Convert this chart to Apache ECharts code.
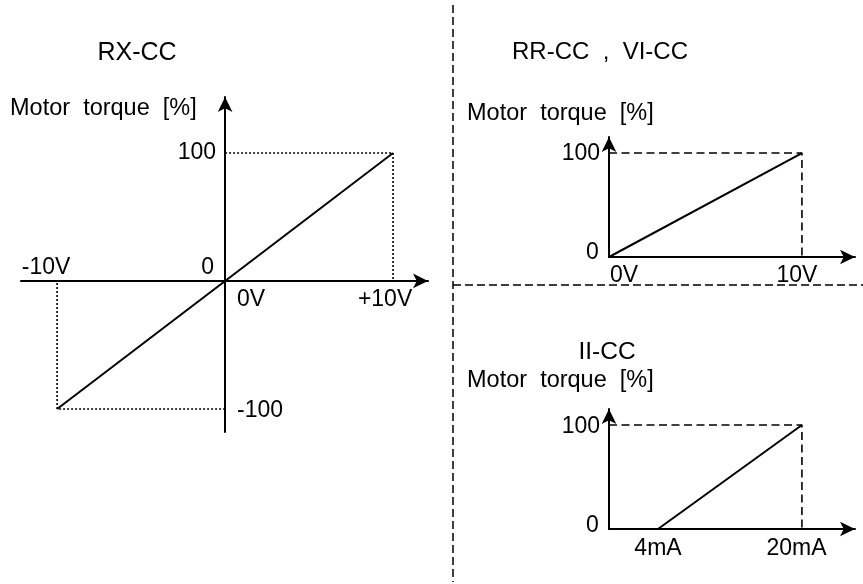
<!DOCTYPE html>
<html><head><meta charset="utf-8">
<script src="https://cdn.jsdelivr.net/npm/echarts@6/dist/echarts.min.js"></script>
<style>html,body{margin:0;padding:0;background:#fff}#c{width:863px;height:584px}</style>
</head><body><div id="c"></div>
<script>
// ---------------- data ----------------
// RX-CC : -10V..+10V  ->  -100..100 %
const rxVoltage = [-10, 10];
const rxTorque = [-100, 100];
const rxVoltTicks = [-10, 0, 10];
const rxVoltTickLabels = ['-10V', '0V', '+10V'];
const rxTorqueTicks = [100, 0, -100];
const rxTorqueTickLabels = ['100', '0', '-100'];

// RR-CC , VI-CC : 0V..10V -> 0..100 %
const vVoltage = [0, 10];
const vTorque = [0, 100];
const vVoltTicks = [0, 10];
const vVoltTickLabels = ['0V', '10V'];
const vTorqueTicks = [100, 0];
const vTorqueTickLabels = ['100', '0'];

// II-CC : 4mA..20mA -> 0..100 %
const iCurrent = [4, 20];
const iTorque = [0, 100];
const iCurrentTicks = [4, 20];
const iCurrentTickLabels = ['4mA', '20mA'];
const iTorqueTicks = [100, 0];
const iTorqueTickLabels = ['100', '0'];

const panelTitles = ['RX-CC', 'RR-CC  ,  VI-CC', 'II-CC'];
const torqueAxisName = 'Motor  torque  [%]';

// ---------------- layout / style ----------------
const FONT = '"Liberation Sans", Arial, Helvetica, sans-serif';
const grids = [
  {left: 21, top: 97, width: 407, height: 335},
  {left: 609, top: 137, width: 246, height: 120},
  {left: 609, top: 409, width: 246, height: 120}
];
const xRange = [[-12.15, 12.08], [0, 12.75], [-1.45, 25.9]];
const yRange = [[-118, 143.7], [0, 115.4], [0, 115.4]];

// label placement for each tick label (same order as tick arrays)
const rxVoltLabelPos = [{off: [-11, -13]}, {off: [26, 19]}, {off: [-8, 19]}];
const rxTorqueLabelPos = [{pos: 'left', dist: 9}, {off: [-17.5, -13.5]}, {pos: 'right', dist: 12, off: [0, 2]}];
const vVoltLabelPos = [{off: [15, 19]}, {off: [-5, 19]}];
const vTorqueLabelPos = [{pos: 'left', dist: 9, off: [0, 1]}, {off: [-16.5, -4.5]}];
const iCurrentLabelPos = [{off: [0, 19.5]}, {off: [-5.5, 19.5]}];
const iTorqueLabelPos = [{pos: 'left', dist: 9, off: [0, 2]}, {off: [-16.5, -3]}];

const axisLineStyle = {color: '#000', width: 2};
const arrowSize = [11, 15];

function mkX(i) {
  return {
    type: 'value', gridIndex: i, min: xRange[i][0], max: xRange[i][1],
    axisLine: {show: true, onZero: true, symbol: ['none', 'arrow'], symbolSize: arrowSize, lineStyle: axisLineStyle},
    axisTick: {show: false}, axisLabel: {show: false}, splitLine: {show: false}
  };
}
function mkY(i) {
  return {
    type: 'value', gridIndex: i, min: yRange[i][0], max: yRange[i][1],
    axisLine: {show: true, onZero: i === 0, symbol: ['none', 'arrow'], symbolSize: arrowSize, lineStyle: axisLineStyle},
    axisTick: {show: false}, axisLabel: {show: false}, splitLine: {show: false}
  };
}
const pairs = (xs, ys) => xs.map((x, k) => [x, ys[k]]);

function lineSeries(i, data, type, width) {
  return {
    type: 'line', xAxisIndex: i, yAxisIndex: i, data: data, symbol: 'none', silent: true,
    clip: false, z: type === 'solid' ? 4 : 3,
    lineStyle: {color: '#000', width: width, type: type, opacity: 1}
  };
}
function labelSeries(i, points, texts, placement) {
  return {
    type: 'scatter', xAxisIndex: i, yAxisIndex: i, symbolSize: 0, silent: true, clip: false, z: 6,
    itemStyle: {color: '#000', opacity: 1},
    data: points.map((p, k) => {
      const pl = placement[k];
      return {
        value: p,
        label: {
          show: true, formatter: texts[k], position: pl.pos || 'inside', distance: pl.dist || 0,
          offset: pl.off || [0, 0], color: '#000', opacity: 1, textBorderWidth: 0, textBorderColor: 'transparent',
          fontSize: 23, fontFamily: FONT
        }
      };
    })
  };
}

const dotted = [2, 2];
const dashed = [8, 4.5];

const series = [
  // RX-CC
  lineSeries(0, pairs(rxVoltage, rxTorque), 'solid', 2),
  lineSeries(0, [[0, rxTorque[1]], [rxVoltage[1], rxTorque[1]], [rxVoltage[1], 0]], dotted, 1.6),
  lineSeries(0, [[0, rxTorque[0]], [rxVoltage[0], rxTorque[0]], [rxVoltage[0], 0]], dotted, 1.6),
  labelSeries(0, rxVoltTicks.map(v => [v, 0]), rxVoltTickLabels, rxVoltLabelPos),
  labelSeries(0, rxTorqueTicks.map(v => [0, v]), rxTorqueTickLabels, rxTorqueLabelPos),
  // RR-CC , VI-CC
  lineSeries(1, pairs(vVoltage, vTorque), 'solid', 2),
  lineSeries(1, [[xRange[1][0], vTorque[1]], [vVoltage[1], vTorque[1]], [vVoltage[1], 0]], dashed, 1.6),
  labelSeries(1, vVoltTicks.map(v => [v, 0]), vVoltTickLabels, vVoltLabelPos),
  labelSeries(1, vTorqueTicks.map(v => [xRange[1][0], v]), vTorqueTickLabels, vTorqueLabelPos),
  // II-CC
  lineSeries(2, pairs(iCurrent, iTorque), 'solid', 2),
  lineSeries(2, [[xRange[2][0], iTorque[1]], [iCurrent[1], iTorque[1]], [iCurrent[1], 0]], dashed, 1.6),
  labelSeries(2, iCurrentTicks.map(v => [v, 0]), iCurrentTickLabels, iCurrentLabelPos),
  labelSeries(2, iTorqueTicks.map(v => [xRange[2][0], v]), iTorqueTickLabels, iTorqueLabelPos)
];

function mkTitle(text, left, top, align, size) {
  return {
    text: text, left: left, top: top, textAlign: align, textVerticalAlign: 'middle', padding: 0,
    textStyle: {color: '#000', fontSize: size, fontWeight: 'normal', fontFamily: FONT}
  };
}

const chart = echarts.init(document.getElementById('c'), null, {renderer: 'canvas'});
chart.setOption({
  animation: false,
  backgroundColor: '#fff',
  title: [
    mkTitle(panelTitles[0], 137, 53, 'center', 25),
    mkTitle(torqueAxisName, 10, 108.5, 'left', 23.5),
    mkTitle(panelTitles[1], 600, 52.5, 'center', 24),
    mkTitle(torqueAxisName, 467, 114, 'left', 23.5),
    mkTitle(panelTitles[2], 607, 352, 'center', 24.5),
    mkTitle(torqueAxisName, 467, 381, 'left', 23.5)
  ],
  grid: grids.map(g => Object.assign({containLabel: false, outerBoundsMode: 'none'}, g)),
  xAxis: [0, 1, 2].map(mkX),
  yAxis: [0, 1, 2].map(mkY),
  series: series,
  graphic: [
    {type: 'line', silent: true, shape: {x1: 453, y1: 5, x2: 453, y2: 582},
      style: {stroke: '#000', lineWidth: 1.5, lineDash: [8, 4]}},
    {type: 'line', silent: true, shape: {x1: 453, y1: 285, x2: 863, y2: 285},
      style: {stroke: '#000', lineWidth: 1.5, lineDash: [8, 4]}}
  ]
});
</script>
</body></html>
